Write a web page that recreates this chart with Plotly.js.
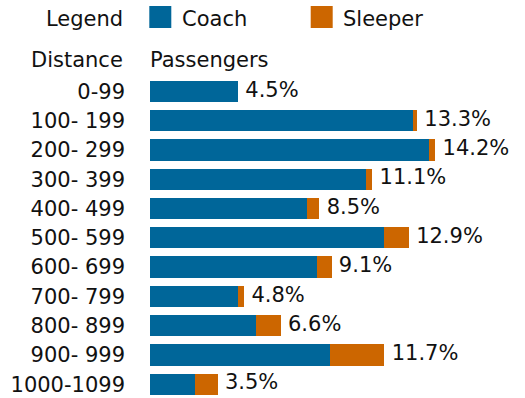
<!DOCTYPE html>
<html>
<head>
<meta charset="utf-8">
<script src="https://cdn.plot.ly/plotly-3.0.1.min.js"></script>
<style>html,body{margin:0;padding:0;background:#fff;}#chart{width:525px;height:398px;}</style>
</head>
<body>
<div id="chart"></div>
<script>
// Data
const distances = ["0-99", "100- 199", "200- 299", "300- 399", "400- 499", "500- 599", "600- 699", "700- 799", "800- 899", "900- 999", "1000-1099"];
const coach   = [4.5, 13.1, 13.9, 10.8, 7.9, 11.7, 8.4, 4.5, 5.4, 9.0, 2.4];
const sleeper = [0.0, 0.2, 0.3, 0.3, 0.6, 1.2, 0.7, 0.3, 1.2, 2.7, 1.1];
const totals  = [4.5, 13.3, 14.2, 11.1, 8.5, 12.9, 9.1, 4.8, 6.6, 11.7, 3.5];
const totalLabels = totals.map(v => v.toFixed(1) + "%");

const FONT = "DejaVu Sans, Verdana, sans-serif";
const FS = 21;
const TXT = "#111111";
const BLUE = "#006699";
const ORANGE = "#cc6600";

const traces = [
  {type: "bar", orientation: "h", name: "Coach", y: distances, x: coach,
   marker: {color: BLUE, line: {width: 0}}, hoverinfo: "skip"},
  {type: "bar", orientation: "h", name: "Sleeper", y: distances, x: sleeper,
   marker: {color: ORANGE, line: {width: 0}}, hoverinfo: "skip"},
  {type: "scatter", mode: "markers+text", y: distances, x: totals, text: totalLabels,
   textposition: "middle right", marker: {size: 10, opacity: 0},
   textfont: {family: FONT, size: FS, color: TXT}, hoverinfo: "skip", cliponaxis: false}
];

const layout = {
  width: 525, height: 398,
  margin: {l: 150, r: 2, t: 77, b: 0, pad: 0},
  paper_bgcolor: "#fff", plot_bgcolor: "#fff",
  barmode: "stack", bargap: 0.273,
  showlegend: false,
  font: {family: FONT, size: FS, color: TXT},
  xaxis: {range: [0.172, 18.51], visible: false, fixedrange: true},
  yaxis: {type: "category", range: [10.47, -0.49], showgrid: false, zeroline: false,
          showline: false, ticks: "", ticklabelstandoff: 24,
          tickfont: {family: FONT, size: FS, color: TXT}, fixedrange: true},
  shapes: [
    {type: "rect", xref: "paper", yref: "paper", xsizemode: "pixel", ysizemode: "pixel",
     xanchor: 0, yanchor: 1, x0: -0.7, x1: 21.3, y0: 49, y1: 71,
     fillcolor: BLUE, line: {width: 0}},
    {type: "rect", xref: "paper", yref: "paper", xsizemode: "pixel", ysizemode: "pixel",
     xanchor: 0, yanchor: 1, x0: 160.7, x1: 182.7, y0: 49, y1: 71,
     fillcolor: ORANGE, line: {width: 0}}
  ],
  annotations: [
    {text: "Legend", xref: "paper", yref: "paper", x: 0, y: 1, xanchor: "right", yanchor: "middle",
     xshift: -25, yshift: 77 - 19, showarrow: false, font: {family: FONT, size: FS, color: TXT}},
    {text: "Coach", xref: "paper", yref: "paper", x: 0, y: 1, xanchor: "left", yanchor: "middle",
     xshift: 29.5, yshift: 77 - 19, showarrow: false, font: {family: FONT, size: FS, color: TXT}},
    {text: "Sleeper", xref: "paper", yref: "paper", x: 0, y: 1, xanchor: "left", yanchor: "middle",
     xshift: 191, yshift: 77 - 19, showarrow: false, font: {family: FONT, size: FS, color: TXT}},
    {text: "Distance", xref: "paper", yref: "paper", x: 0, y: 1, xanchor: "right", yanchor: "middle",
     xshift: -25, yshift: 77 - 60, showarrow: false, font: {family: FONT, size: FS, color: TXT}},
    {text: "Passengers", xref: "paper", yref: "paper", x: 0, y: 1, xanchor: "left", yanchor: "middle",
     xshift: -2, yshift: 77 - 60, showarrow: false, font: {family: FONT, size: FS, color: TXT}}
  ]
};

Plotly.newPlot("chart", traces, layout, {staticPlot: true, displayModeBar: false});
</script>
</body>
</html>
